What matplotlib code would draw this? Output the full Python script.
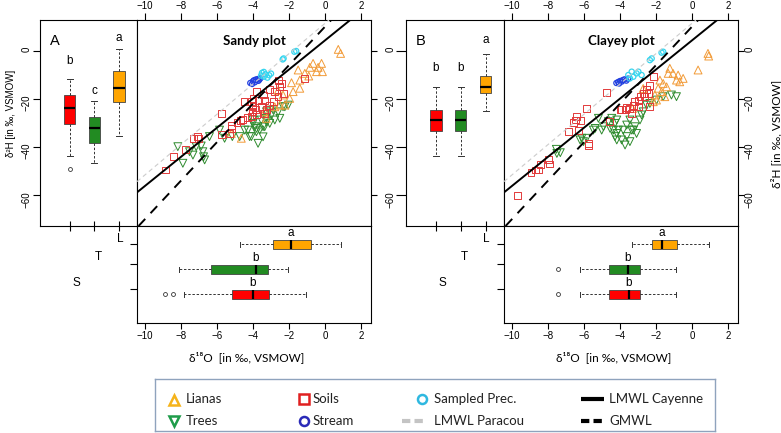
import numpy as np
import matplotlib.pyplot as plt

W, H = 781, 433

# ---------------- scatter data: d18O (x), d2H (y) ----------------
# Sandy plot
sandy_lianas_x = [0.74, 0.87, -0.66, -0.19, -0.84, -0.38, -1.49, -0.47, -0.14, -1.12, -1.4, -1.86, -1.4,
                  -1.77, -2.33, -1.96, -2.51, -2.23, -2.79, -3.35, -3.26, -5.21, -4.65, -2.6, -0.9]
sandy_lianas_y = [0.57, -1.1, -5.25, -5.25, -6.9, -6.9, -8.0, -8.7, -8.7, -9.4, -12.2, -13.3, -15.6,
                  -17.0, -18.4, -19.8, -22.6, -22.6, -23.3, -25.4, -28.1, -34.4, -36.4, -16.5, -10.5]
sandy_soils_x = [-8.87, -8.42, -7.77, -7.31, -7.07, -7.01, -5.77, -5.73, -5.3, -5.21, -4.89, -4.71, -4.56,
                 -4.33, -5.21, -4.5, -4.09, -4.0, -3.85, -3.72, -4.0, -4.0, -4.04, -3.81, -3.44, -3.35,
                 -3.54, -3.26, -3.35, -3.07, -2.79, -2.51, -2.42, -2.61, -2.33, -2.88, -3.07, -4.09,
                 -3.81, -1.12, -2.6]
sandy_soils_y = [-49.6, -43.8, -41.0, -36.6, -35.5, -36.6, -26.0, -34.8, -34.4, -32.3, -29.9, -29.1, -28.5,
                 -27.7, -30.9, -21.2, -21.2, -23.3, -24.6, -20.5, -19.8, -22.6, -25.4, -17.0, -18.4, -20.5,
                 -23.3, -24.6, -26.0, -16.3, -17.0, -15.0, -13.6, -19.1, -17.7, -21.2, -22.6, -27.4,
                 -26.7, -11.5, -12.5]
sandy_trees_x = [-8.18, -7.9, -7.53, -7.34, -7.16, -6.88, -6.79, -6.75, -6.69, -6.42, -5.86, -5.58, -5.15,
                 -4.74, -4.19, -4.46, -4.0, -3.81, -3.72, -3.44, -3.25, -2.97, -2.79, -2.6, -2.23, -2.04,
                 -3.81, -4.28, -3.25, -3.07, -3.44, -4.0, -3.54, -3.26, -3.07, -3.91, -3.63, -3.35,
                 -2.33, -2.51, -2.88, -4.09]
sandy_trees_y = [-39.9, -46.8, -42.0, -43.4, -39.9, -39.6, -42.0, -44.1, -45.4, -35.7, -33.0, -36.4, -35.7,
                 -35.7, -35.7, -33.0, -30.2, -32.3, -38.5, -31.6, -29.5, -26.7, -28.8, -25.4, -23.3, -22.6,
                 -33.7, -33.0, -25.4, -24.7, -35.8, -28.8, -28.8, -28.1, -30.2, -31.6, -33.0, -31.6,
                 -23.3, -28.1, -24.6, -35.7]
sandy_stream_x = [-4.15, -4.05, -4.0, -3.95, -3.9, -3.85, -3.75, -3.7, -3.6, -3.65]
sandy_stream_y = [-13.4, -13.8, -12.7, -12.3, -13.1, -12.0, -11.8, -12.5, -11.5, -12.0]
sandy_prec_x = [-1.7, -1.6, -2.35, -2.3, -3.5, -3.4, -3.3, -3.1, -3.0, -3.4, -3.2, -3.55]
sandy_prec_y = [-0.4, -0.1, -3.6, -3.2, -9.2, -8.8, -9.8, -10.2, -9.5, -10.8, -11.2, -10.3]

# Clayey plot
clayey_lianas_x = [0.89, 0.93, 0.34, -1.23, -1.32, -1.05, -0.77, -0.86, -0.49, -0.68, -1.78, -1.6, -1.41,
                   -1.88, -1.69, -2.06, -1.97, -1.51, -2.15, -2.71, -3.3]
clayey_lianas_y = [-1.1, -2.2, -8.0, -7.3, -9.4, -9.4, -10.1, -12.2, -11.5, -12.9, -12.2, -13.6, -15.0,
                   -15.6, -17.0, -18.4, -20.5, -19.1, -21.2, -15.7, -24.0]
clayey_soils_x = [-9.72, -8.95, -8.71, -8.52, -8.4, -7.91, -7.97, -6.86, -6.59, -6.4, -6.22, -6.49, -6.31,
                  -5.85, -5.75, -5.75, -4.74, -4.59, -4.0, -2.15, -2.34, -2.52, -2.71, -2.43, -2.62, -2.89,
                  -2.98, -3.17, -3.26, -2.98, -3.45, -3.72, -3.91, -3.63, -2.34, -3.35]
clayey_soils_y = [-60.4, -50.7, -49.6, -49.6, -47.5, -47.1, -45.2, -33.7, -29.9, -27.4, -29.1, -28.8, -33.0,
                  -24.0, -38.5, -39.6, -17.4, -29.5, -24.6, -10.8, -14.3, -16.3, -17.7, -17.7, -19.1, -19.1,
                  -20.5, -21.2, -22.6, -23.3, -24.0, -24.6, -24.6, -23.5, -23.3, -26.0]
clayey_trees_x = [-7.54, -7.51, -7.32, -6.12, -6.03, -6.22, -5.85, -5.2, -5.02, -5.48, -5.38, -4.92, -4.65,
                  -4.55, -4.37, -4.28, -4.18, -4.09, -4.46, -4.28, -4.18, -3.82, -3.63, -3.45, -3.91, -3.63,
                  -3.35, -3.17, -2.89, -2.71, -2.52, -2.34, -1.97, -1.6, -1.14, -0.86, -2.8, -3.08, -3.45,
                  -4.18, -3.72, -3.26]
clayey_trees_y = [-41.0, -42.7, -42.4, -36.4, -37.8, -37.1, -36.4, -28.1, -33.0, -33.0, -32.3, -31.6, -29.5,
                  -32.3, -33.0, -35.7, -28.8, -33.0, -28.1, -30.2, -34.4, -33.0, -30.9, -28.8, -37.1, -35.7,
                  -33.0, -31.6, -28.8, -25.4, -22.6, -21.9, -20.5, -19.1, -18.4, -19.1, -26.7, -34.4, -37.8,
                  -37.1, -39.2, -33.0]
clayey_stream_x = [-4.2, -4.1, -4.0, -3.9, -3.85, -3.75, -3.65, -3.55, -4.05]
clayey_stream_y = [-13.4, -13.0, -12.6, -12.8, -12.2, -11.9, -12.4, -11.6, -13.6]
clayey_prec_x = [-1.6, -1.69, -2.24, -2.34, -3.35, -3.08, -2.8, -3.26, -3.54, -2.98, -3.45]
clayey_prec_y = [-0.4, -0.8, -3.2, -3.9, -8.7, -9.4, -10.1, -10.8, -10.1, -8.7, -11.5]

# meteoric water lines: (slope, intercept)
lmwl_cayenne = (6.05, 4.3)
lmwl_paracou = (6.3, 11.4)
gmwl = (8.0, 10.0)

# ---------------- boxplot summaries [whislo, q1, med, q3, whishi] ----------------
box_groups = ['S', 'T', 'L']
sandy_d2h_box = [[-43.6, -30.5, -24.0, -18.4, -11.8], [-46.8, -38.2, -32.3, -27.7, -20.8],
                 [-35.5, -21.2, -15.6, -8.4, 0.6]]
sandy_d2h_fliers = [[-49.3], [], []]
sandy_d2h_letters = ['b', 'c', 'a']
sandy_d18o_box = [[-7.81, -5.17, -4.0, -3.11, -1.08], [-8.13, -6.32, -3.85, -3.17, -2.05],
                  [-4.70, -2.89, -1.90, -0.80, 0.89]]
sandy_d18o_fliers = [[-8.89, -8.44], [], []]
sandy_d18o_letters = ['b', 'b', 'a']

clayey_d2h_box = [[-43.8, -33.4, -28.9, -24.7, -15.0], [-43.8, -33.4, -28.9, -24.7, -15.0],
                  [-24.9, -17.7, -15.0, -10.5, -1.5]]
clayey_d2h_fliers = [[], [], []]
clayey_d2h_letters = ['b', 'b', 'a']
clayey_d18o_box = [[-6.25, -4.59, -3.52, -2.89, -0.86], [-6.25, -4.59, -3.57, -2.89, -0.86],
                   [-3.32, -2.21, -1.66, -0.83, 0.95]]
clayey_d18o_fliers = [[-7.47], [-7.47], []]
clayey_d18o_letters = ['b', 'b', 'a']

# ---------------- styling ----------------
c_lianas = '#f29b38'
c_soils = '#e23a3a'
c_trees = '#2e8b2e'
c_stream = '#2340e0'
c_prec = '#35d5ef'
box_fill = ['#ff0000', '#228b22', '#ffa500']
TXT = ['Lato', 'DejaVu Sans']
AX = ['Liberation Sans', 'DejaVu Sans']

plt.rcParams['font.family'] = AX
plt.rcParams['axes.linewidth'] = 0.8

XLIM = (-10.45, 2.56)
YLIM = (-72.9, 12.8)


def rect(x0, y0, x1, y1):
    return [x0 / W, 1 - y1 / H, (x1 - x0) / W, (y1 - y0) / H]


def stats(box, fliers):
    out = []
    for b, f in zip(box, fliers):
        out.append(dict(whislo=b[0], q1=b[1], med=b[2], q3=b[3], whishi=b[4], fliers=f))
    return out


def draw_boxes(ax, box, fliers, horizontal, width):
    res = ax.bxp(stats(box, fliers), positions=[1, 2, 3], widths=width, patch_artist=True,
                 orientation='horizontal' if horizontal else 'vertical', manage_ticks=False,
                 boxprops=dict(edgecolor='#444444', linewidth=0.6),
                 medianprops=dict(color='black', linewidth=1.6),
                 whiskerprops=dict(color='#333333', linewidth=0.7, linestyle=(0, (2.5, 1.8))),
                 capprops=dict(color='#333333', linewidth=0.7), capwidths=width * 0.55,
                 flierprops=dict(marker='o', markersize=2.8, markerfacecolor='none',
                                 markeredgecolor='#333333', markeredgewidth=0.6))
    for patch, c in zip(res['boxes'], box_fill):
        patch.set_facecolor(c)


def scatter_panel(ax, lianas, soils, trees, stream, prec):
    ax.scatter(*trees, marker='v', s=32, facecolors='none', edgecolors=c_trees, linewidths=0.7, zorder=2)
    ax.scatter(*lianas, marker='^', s=32, facecolors='none', edgecolors=c_lianas, linewidths=0.7, zorder=2)
    ax.scatter(*soils, marker='s', s=25, facecolors='none', edgecolors=c_soils, linewidths=0.7, zorder=2)
    ax.scatter(*stream, marker='o', s=14, facecolors='none', edgecolors=c_stream, linewidths=0.9, zorder=2)
    ax.scatter(*prec, marker='o', s=14, facecolors='none', edgecolors=c_prec, linewidths=0.9, zorder=2)
    ax.axline((0, lmwl_paracou[1]), slope=lmwl_paracou[0], color='#cccccc', lw=0.8,
              linestyle=(0, (4, 3)), zorder=3)
    ax.axline((0, lmwl_cayenne[1]), slope=lmwl_cayenne[0], color='black', lw=1.4, zorder=3)
    ax.axline((0, gmwl[1]), slope=gmwl[0], color='black', lw=1.4, linestyle=(0, (5, 4)), zorder=3)
    ax.set_xlim(*XLIM)
    ax.set_ylim(*YLIM)
    ax.set_xticks(np.arange(-10, 3, 2))
    ax.set_yticks([0, -20, -40, -60])
    ax.xaxis.tick_top()
    ax.yaxis.tick_right()
    ax.tick_params(axis='x', direction='out', length=5, labelsize=7, pad=1.5)
    ax.tick_params(axis='y', direction='out', length=4, labelsize=7, labelrotation=90, pad=1)


fig = plt.figure(figsize=(W / 100, H / 100), dpi=100)

panels = [
    dict(xl=40, xs=137, xr=371, name='A', title='Sandy plot',
         sc=((sandy_lianas_x, sandy_lianas_y), (sandy_soils_x, sandy_soils_y), (sandy_trees_x, sandy_trees_y),
             (sandy_stream_x, sandy_stream_y), (sandy_prec_x, sandy_prec_y)),
         vb=(sandy_d2h_box, sandy_d2h_fliers, sandy_d2h_letters, [-4.2, -16.6, 5.4]),
         hb=(sandy_d18o_box, sandy_d18o_fliers, sandy_d18o_letters)),
    dict(xl=406, xs=504, xr=738, name='B', title='Clayey plot',
         sc=((clayey_lianas_x, clayey_lianas_y), (clayey_soils_x, clayey_soils_y),
             (clayey_trees_x, clayey_trees_y), (clayey_stream_x, clayey_stream_y),
             (clayey_prec_x, clayey_prec_y)),
         vb=(clayey_d2h_box, clayey_d2h_fliers, clayey_d2h_letters, [-7.3, -7.3, 4.4]),
         hb=(clayey_d18o_box, clayey_d18o_fliers, clayey_d18o_letters)),
]

for i, p in enumerate(panels):
    # left: d2H boxplots
    axl = fig.add_axes(rect(p['xl'], 20, p['xs'], 226))
    box, fl, let, let_y = p['vb']
    draw_boxes(axl, box, fl, False, 0.45)
    axl.set_xlim(-0.2, 3.73)
    axl.set_ylim(*YLIM)
    axl.set_xticks([1, 2, 3])
    axl.set_xticklabels([])
    axl.set_yticks([0, -20, -40, -60])
    axl.tick_params(axis='x', direction='inout', length=7)
    axl.tick_params(axis='y', direction='out', length=5 if i == 0 else 7.5, labelsize=7,
                    labelrotation=90, pad=1 if i == 0 else 0.3)
    for k in range(3):
        axl.text(k + 1, let_y[k], let[k], ha='center', va='center', fontsize=8.5)
    axl.text(0.1, 0.9, p['name'], transform=axl.transAxes, fontsize=10.5, va='center', ha='left')

    # main scatter
    axs = fig.add_axes(rect(p['xs'], 20, p['xr'], 226))
    scatter_panel(axs, *p['sc'])
    if i == 0:
        axs.set_yticklabels([])
    axs.text(0.5, 0.9, p['title'], transform=axs.transAxes, ha='center', va='center',
             fontsize=9.5, fontweight='bold', family=TXT)

    # bottom: d18O boxplots
    axb = fig.add_axes(rect(p['xs'], 226, p['xr'], 323))
    box, fl, let = p['hb']
    draw_boxes(axb, box, fl, True, 0.36)
    axb.set_xlim(*XLIM)
    axb.set_ylim(-0.14, 3.72)
    axb.set_xticks(np.arange(-10, 3, 2))
    axb.set_yticks([1.22, 2.22, 3.0])
    axb.set_yticklabels([])
    axb.tick_params(axis='x', direction='out', length=4, labelsize=7, pad=2)
    axb.tick_params(axis='y', direction='out', length=5)
    for k in range(3):
        axb.text(box[k][2], k + 1 + 0.46, let[k], ha='center', va='center', fontsize=8.5)

    off = p['xl'] - 40
    for lab, lx, ly in zip(['L', 'T', 'S'], [120.5, 98, 76], [239.5, 257, 283.5]):
        fig.text((lx + off) / W, 1 - ly / H, lab, ha='center', va='center', fontsize=8.5)

    xc = (p['xs'] + p['xr']) / 2 - 7
    fig.text(xc / W, 1 - 357 / H, 'δ¹⁸O  [in ‰, VSMOW]', ha='center', va='center',
             fontsize=8.5, family=TXT)

fig.text(11 / W, 1 - 113 / H, 'δ²H [in ‰, VSMOW]', rotation=90, ha='center', va='center',
         fontsize=7, family=AX)
fig.text(776 / W, 1 - 134 / H, 'δ²H [in ‰, VSMOW]', rotation=90, ha='center', va='center',
         fontsize=8.5, family=TXT)

# ---------------- legend ----------------
axg = fig.add_axes(rect(155, 379, 715, 431))
axg.set_xlim(155, 715)
axg.set_ylim(431, 379)
axg.set_xticks([])
axg.set_yticks([])
for s in axg.spines.values():
    s.set_color('#8fa3bd')
    s.set_linewidth(1.0)
r1, r2 = 399, 421
axg.plot([174], [r1 + 0.5], marker='^', ms=6.5, mfc='none', mec='#f5b31a', mew=1.8, ls='none')
axg.plot([174], [r2 - 0.5], marker='v', ms=6.5, mfc='none', mec='#1e9c4a', mew=1.8, ls='none')
axg.plot([304], [r1], marker='s', ms=6.5, mfc='none', mec='#e02020', mew=1.8, ls='none')
axg.plot([304], [r2], marker='o', ms=6.5, mfc='none', mec='#2a2ab8', mew=1.8, ls='none')
axg.plot([422], [r1], marker='o', ms=6.5, mfc='none', mec='#2fb8e0', mew=1.8, ls='none')
axg.plot([402, 425], [r2, r2], color='#c4c4c4', lw=3, linestyle=(0, (2, 1)), solid_capstyle='butt',
         dash_capstyle='butt')
axg.plot([581, 604], [r1, r1], color='black', lw=3, solid_capstyle='butt')
axg.plot([581, 604], [r2, r2], color='black', lw=3, linestyle=(0, (2, 1)), dash_capstyle='butt')
for tx, ty, t in [(186, r1, 'Lianas'), (186, r2, 'Trees'), (313, r1, 'Soils'), (313, r2, 'Stream'),
                  (434, r1, 'Sampled Prec.'), (434, r2, 'LMWL Paracou'), (609, r1, 'LMWL Cayenne'),
                  (609, r2, 'GMWL')]:
    axg.text(tx, ty, t, ha='left', va='center', fontsize=9.5, family=TXT, color='#222222')

fig.savefig('out.png', dpi=100)
